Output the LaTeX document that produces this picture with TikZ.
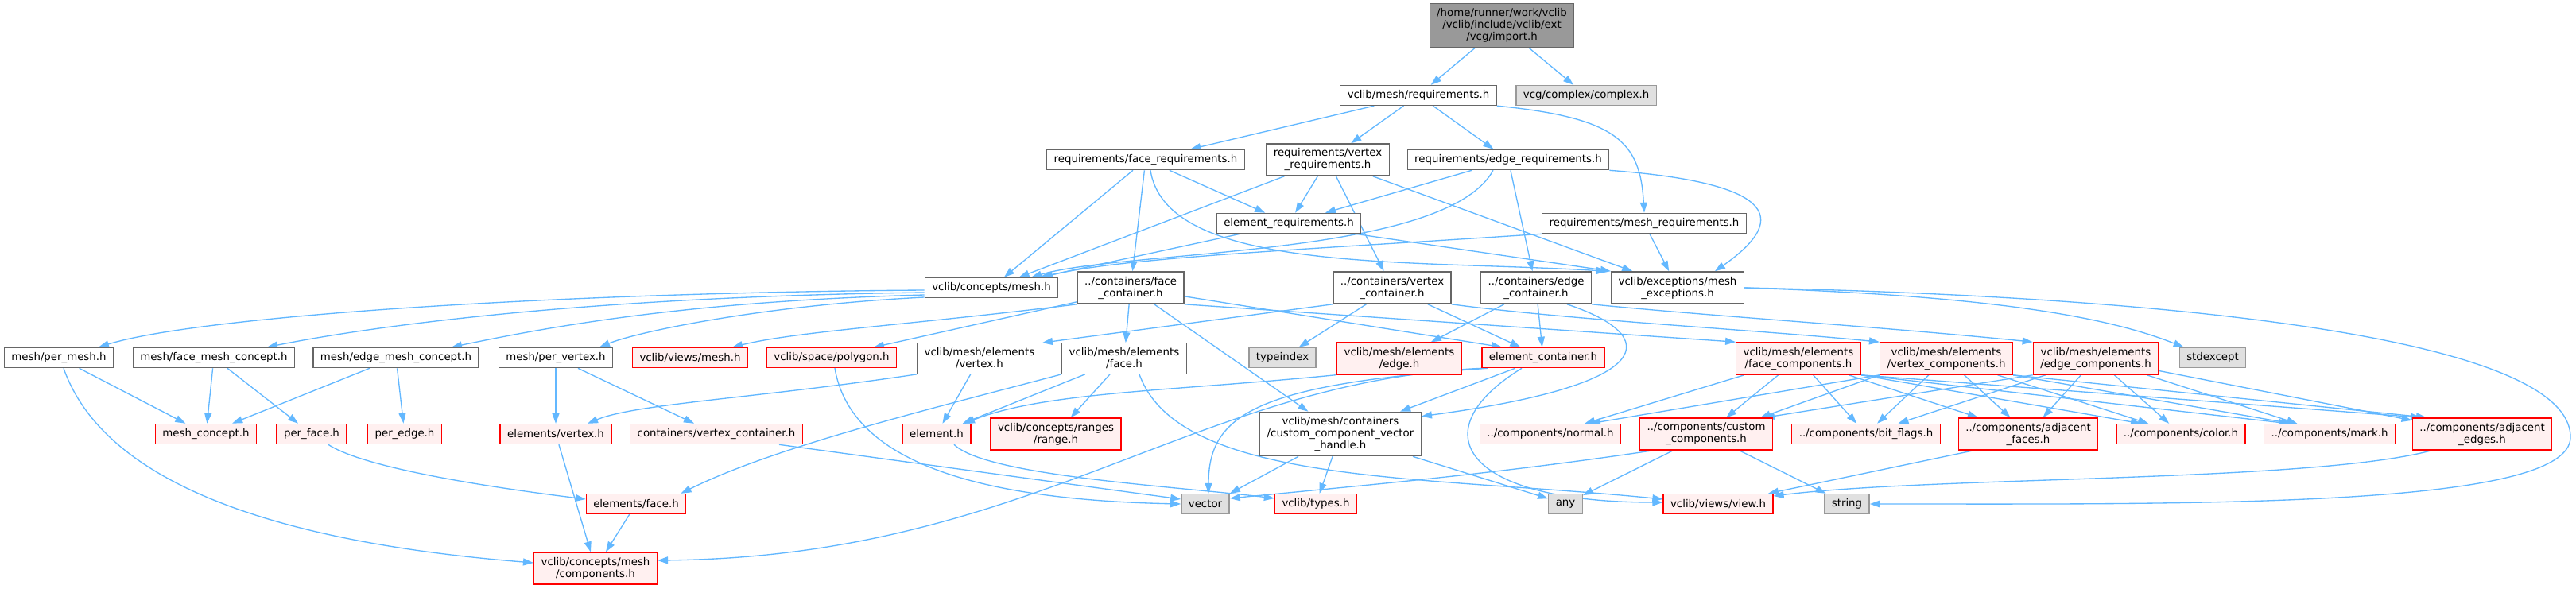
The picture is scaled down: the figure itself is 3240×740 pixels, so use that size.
\documentclass[tikz,border=0pt]{standalone}
\usepackage{fontspec}
\setmainfont{DejaVu Sans}
\usepackage{tikz}
\usetikzlibrary{arrows.meta}
\definecolor{EdgeBlue}   {HTML}{63B8FF}
\definecolor{NodeBorder} {HTML}{666666}
\definecolor{RootFill}   {HTML}{999999}
\definecolor{ExtFill}    {HTML}{E0E0E0}
\definecolor{ExtBorder}  {HTML}{999999}
\definecolor{TruncFill}  {HTML}{FFF0F0}
\definecolor{TruncBorder}{HTML}{FF0000}
\pgfdeclarelayer{bg}
\pgfsetlayers{bg,main}
\tikzset{
  filenode/.style={draw=NodeBorder,fill=white,line width=1.33pt,align=center,
    font=\fontsize{13.33}{15}\selectfont,inner xsep=9pt,inner ysep=6pt,minimum height=25pt},
  rootnode/.style={filenode,fill=RootFill},
  extnode/.style={filenode,draw=ExtBorder,fill=ExtFill},
  truncnode/.style={filenode,draw=TruncBorder,fill=TruncFill},
  dep/.style={draw=EdgeBlue,line width=1.33pt,-{Triangle[length=13pt,width=9pt]}}
}
\begin{document}
\begin{tikzpicture}[x=1pt,y=-1pt]
  \begin{pgfonlayer}{bg}
    \path[use as bounding box,fill=white] (0,0) rectangle (3240,740);
  \end{pgfonlayer}
  % top rows
  \node[rootnode] (import) at (1889,32) {/home/runner/work/vclib\\/vclib/include/vclib/ext\\/vcg/import.h};
  \node[filenode] (meshreq) at (1784,120) {vclib/mesh/requirements.h};
  \node[extnode] (complex) at (1995,120) {vcg/complex/complex.h};
  \node[filenode] (facereq) at (1441,201) {requirements/face\_requirements.h};
  \node[filenode] (vertreq) at (1670,201) {requirements/vertex\\\_requirements.h};
  \node[filenode] (edgereq) at (1897,201) {requirements/edge\_requirements.h};
  \node[filenode] (elemreq) at (1621,281) {element\_requirements.h};
  \node[filenode] (meshreqs) at (2068,281) {requirements/mesh\_requirements.h};
  \node[filenode] (conmesh) at (1247,362) {vclib/concepts/mesh.h};
  \node[filenode] (facecont) at (1422,362) {../containers/face\\\_container.h};
  \node[filenode] (vertcont) at (1751,362) {../containers/vertex\\\_container.h};
  \node[filenode] (edgecont) at (1932,362) {../containers/edge\\\_container.h};
  \node[filenode] (meshexc) at (2110,362) {vclib/exceptions/mesh\\\_exceptions.h};
  % middle row
  \node[filenode] (permesh) at (74,450) {mesh/per\_mesh.h};
  \node[filenode] (facemc) at (269,450) {mesh/face\_mesh\_concept.h};
  \node[filenode] (edgemc) at (498,450) {mesh/edge\_mesh\_concept.h};
  \node[filenode] (pervert) at (699,450) {mesh/per\_vertex.h};
  \node[truncnode] (viewmesh) at (868,450) {vclib/views/mesh.h};
  \node[truncnode] (polygon) at (1046,450) {vclib/space/polygon.h};
  \node[filenode] (elemvert) at (1232,451) {vclib/mesh/elements\\/vertex.h};
  \node[filenode] (elemface) at (1414,451) {vclib/mesh/elements\\/face.h};
  \node[extnode] (typeidx) at (1613,450) {typeindex};
  \node[truncnode] (elemedge) at (1760,451) {vclib/mesh/elements\\/edge.h};
  \node[truncnode] (elemcont) at (1941,450) {element\_container.h};
  \node[truncnode] (facecomp) at (2262,451) {vclib/mesh/elements\\/face\_components.h};
  \node[truncnode] (vertcomp) at (2448,451) {vclib/mesh/elements\\/vertex\_components.h};
  \node[truncnode] (edgecomp) at (2636,451) {vclib/mesh/elements\\/edge\_components.h};
  \node[extnode] (stdexc) at (2783,450) {stdexcept};
  % lower rows
  \node[truncnode] (meshcpt) at (259,546) {mesh\_concept.h};
  \node[truncnode] (perface) at (392,546) {per\_face.h};
  \node[truncnode] (peredge) at (509,546) {per\_edge.h};
  \node[truncnode] (elsvert) at (699,546) {elements/vertex.h};
  \node[truncnode] (vcontainer) at (901,546) {containers/vertex\_container.h};
  \node[truncnode] (elementh) at (1178,546) {element.h};
  \node[truncnode] (range) at (1328,546) {vclib/concepts/ranges\\/range.h};
  \node[filenode] (ccvhandle) at (1686,546) {vclib/mesh/containers\\/custom\_component\_vector\\\_handle.h};
  \node[truncnode] (compnormal) at (1950,546) {../components/normal.h};
  \node[truncnode] (custcomp) at (2146,546) {../components/custom\\\_components.h};
  \node[truncnode] (bitflags) at (2347,546) {../components/bit\_flags.h};
  \node[truncnode] (adjfaces) at (2551,546) {../components/adjacent\\\_faces.h};
  \node[truncnode] (compcolor) at (2743,546) {../components/color.h};
  \node[truncnode] (compmark) at (2930,546) {../components/mark.h};
  \node[truncnode] (adjedges) at (3122,546) {../components/adjacent\\\_edges.h};
  \node[truncnode] (elsface) at (800,634) {elements/face.h};
  \node[extnode] (vector) at (1516,634) {vector};
  \node[truncnode] (types) at (1655,634) {vclib/types.h};
  \node[extnode] (any) at (1969,634) {any};
  \node[truncnode] (view) at (2161,634) {vclib/views/view.h};
  \node[extnode] (string) at (2323,634) {string};
  \node[truncnode] (meshcomps) at (749,715) {vclib/concepts/mesh\\/components.h};
  \coordinate (loopturn) at (3233,550);

  \begin{pgfonlayer}{bg}
  % requirements
  \draw[dep] (import) -- (meshreq);
  \draw[dep] (import) -- (complex);
  \draw[dep] (meshreq) -- (facereq);
  \draw[dep] (meshreq) -- (vertreq);
  \draw[dep] (meshreq) -- (edgereq);
  \draw[dep] (meshreq.south east) .. controls +(150,15) and +(-5,-90) .. (meshreqs.north);
  \draw[dep] (facereq) -- (conmesh);
  \draw[dep] (facereq) -- (facecont);
  \draw[dep] (facereq) -- (elemreq);
  \draw[dep] ([xshift=6]facereq.south) .. controls +(20,130) and +(-250,-15) .. ([xshift=-5]meshexc.north west);
  \draw[dep] (vertreq) -- (conmesh);
  \draw[dep] (vertreq) -- (elemreq);
  \draw[dep] (vertreq) -- (vertcont);
  \draw[dep] (vertreq) -- (meshexc);
  \draw[dep] (edgereq) -- (elemreq);
  \draw[dep] ([xshift=-19]edgereq.south) .. controls +(-60,110) and +(120,-35) .. ([xshift=50]conmesh.north);
  \draw[dep] (edgereq) -- (edgecont);
  \draw[dep] (edgereq.south east) .. controls +(200,15) and +(100,-70) .. ([xshift=47]meshexc.north);
  \draw[dep] (elemreq) -- (conmesh);
  \draw[dep] ([xshift=84]elemreq.south) -- (meshexc.north west);
  \draw[dep] (meshreqs.south west) .. controls +(-300,20) and +(100,-25) .. ([xshift=64]conmesh.north);
  \draw[dep] (meshreqs) -- (meshexc);
  % concepts and containers
  \draw[dep] ([yshift=-3pt]conmesh.west) .. controls +(-450,3) and +(130,-40) .. ([xshift=50]permesh.north);
  \draw[dep] ([yshift=-6pt]conmesh.west) .. controls +(-400,5) and +(150,-30) .. ([xshift=67]facemc.north);
  \draw[dep] ([yshift=-9pt]conmesh.west) .. controls +(-300,8) and +(120,-25) .. ([xshift=70]edgemc.north);
  \draw[dep] ([yshift=-12pt]conmesh.west) .. controls +(-200,10) and +(50,-20) .. ([xshift=55]pervert.north);
  \draw[dep] (facecont.south west) .. controls +(-200,25) and +(80,-20) .. ([xshift=53]viewmesh.north);
  \draw[dep] ([yshift=3pt]facecont.south west) -- ([xshift=53]polygon.north);
  \draw[dep] (facecont) -- (elemface);
  \draw[dep] (facecont) -- (ccvhandle);
  \draw[dep] ([yshift=10pt]facecont.south east) -- ([xshift=-52]elemcont.north);
  \draw[dep] (facecont.south east) -- (facecomp.north west);
  \draw[dep] (vertcont.south west) -- (elemvert.north east);
  \draw[dep] (vertcont) -- (typeidx);
  \draw[dep] (vertcont) -- (elemcont);
  \draw[dep] (vertcont.south east) .. controls +(150,20) and +(-150,-15) .. (vertcomp.north west);
  \draw[dep] (edgecont) -- (elemedge);
  \draw[dep] (edgecont) -- (elemcont);
  \draw[dep] ([xshift=39]edgecont.south) .. controls +(120,40) and +(300,-40) .. ([yshift=-6pt]ccvhandle.north east);
  \draw[dep] (edgecont.south east) .. controls +(150,15) and +(-200,-20) .. (edgecomp.north west);
  \draw[dep] (meshexc.east) .. controls +(300,10) and +(-100,-40) .. ([xshift=6]stdexc.north west);
  \draw[dep] (meshexc.east) .. controls +(500,10) and +(0,-130) .. (loopturn)
    .. controls +(0,90) and +(400,0) .. (string.east);
  % elements
  \draw[dep] (elemvert) -- (elementh);
  \draw[dep] (elemvert.south west) .. controls +(-200,30) and +(60,-25) .. ([xshift=40]elsvert.north);
  \draw[dep] (elemface) -- (elementh);
  \draw[dep] (elemface) -- (range);
  \draw[dep] ([xshift=19]elemface.south) .. controls +(50,140) and +(-300,-30) .. ([yshift=6pt]view.west);
  \draw[dep] (elemface.south west) .. controls +(-150,40) and +(120,-60) .. ([xshift=-7]elsface.north east);
  \draw[dep] (elemedge.south west) .. controls +(-200,20) and +(100,-40) .. ([xshift=35]elementh.north);
  \draw[dep] (elemcont) -- (ccvhandle);
  \draw[dep] ([xshift=-27]elemcont.south) .. controls +(-130,80) and +(-250,0) .. ([yshift=2pt]view.west);
  \draw[dep] ([xshift=-70]elemcont.south) .. controls +(-290,20) and +(0,-100) .. ([xshift=4]vector.north);
  \draw[dep] (elemcont.south west) .. controls +(-364,17) and +(473,-5) .. ([yshift=10pt]meshcomps.east);
  \draw[dep] ([xshift=-53]ccvhandle.south) -- (vector.north east);
  \draw[dep] (ccvhandle) -- (types);
  \draw[dep] (ccvhandle) -- (any);
  % mesh concepts
  \draw[dep] (permesh) -- (meshcpt);
  \draw[dep] ([xshift=6]permesh.south) .. controls +(60,170) and +(-250,-20) .. ([yshift=7pt]meshcomps.west);
  \draw[dep] (facemc) -- (meshcpt);
  \draw[dep] (facemc) -- (perface);
  \draw[dep] (edgemc) -- (meshcpt);
  \draw[dep] (edgemc) -- (peredge);
  \draw[dep] (pervert) -- (elsvert);
  \draw[dep] (pervert) -- (vcontainer);
  \draw[dep] ([xshift=21]perface.south) .. controls +(30,20) and +(-200,-25) .. ([yshift=6pt]elsface.west);
  \draw[dep] (elsvert) -- (meshcomps);
  \draw[dep] (elsface) -- (meshcomps);
  \draw[dep] ([xshift=79]vcontainer.south) -- ([yshift=6pt]vector.west);
  \draw[dep] ([xshift=4]polygon.south) .. controls +(20,120) and +(-250,-5) .. (vector.west);
  \draw[dep] ([xshift=22]elementh.south) .. controls +(40,40) and +(-120,-15) .. ([yshift=7pt]types.west);
  % components
  \draw[dep] (facecomp) -- (compnormal);
  \draw[dep] (facecomp) -- (custcomp);
  \draw[dep] (facecomp) -- (bitflags);
  \draw[dep] (facecomp) -- (adjfaces);
  \draw[dep] (facecomp.south east) -- ([xshift=-50]compcolor.north);
  \draw[dep] (facecomp.south east) -- ([xshift=-51]compmark.north);
  \draw[dep] (facecomp.south east) -- ([xshift=-77]adjedges.north);
  \draw[dep] (vertcomp.south west) -- ([xshift=50]compnormal.north);
  \draw[dep] (vertcomp.south west) -- ([xshift=68]custcomp.north);
  \draw[dep] (vertcomp) -- (bitflags);
  \draw[dep] (vertcomp) -- (adjfaces);
  \draw[dep] (vertcomp) -- (compcolor);
  \draw[dep] (vertcomp.south east) -- ([xshift=-48]compmark.north);
  \draw[dep] (vertcomp.south east) -- ([xshift=-70]adjedges.north);
  \draw[dep] (edgecomp.south west) -- ([xshift=73]custcomp.north);
  \draw[dep] (edgecomp) -- (bitflags);
  \draw[dep] (edgecomp) -- (adjfaces);
  \draw[dep] (edgecomp) -- (compcolor);
  \draw[dep] (edgecomp) -- (compmark);
  \draw[dep] (edgecomp) -- (adjedges);
  \draw[dep] ([xshift=-69]adjfaces.south) -- ([xshift=63]view.north);
  \draw[dep] ([xshift=-64]adjedges.south) .. controls +(-150,40) and +(200,-25) .. ([yshift=10pt]view.east);
  \draw[dep] ([xshift=-66]custcomp.south) .. controls +(-200,30) and +(153,-15) .. ([yshift=7pt]vector.east);
  \draw[dep] (custcomp) -- (any);
  \draw[dep] (custcomp) -- (string);
  \end{pgfonlayer}
\end{tikzpicture}
\end{document}
